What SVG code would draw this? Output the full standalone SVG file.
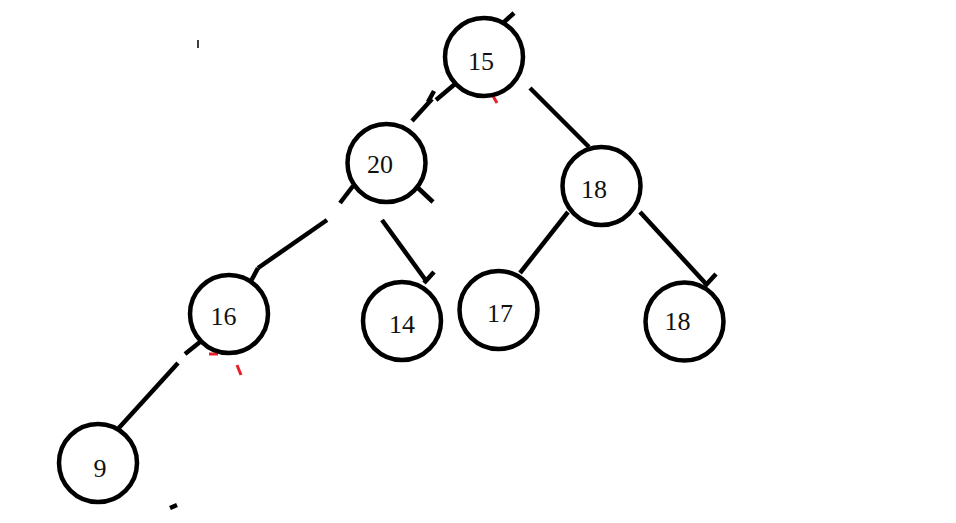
<svg xmlns="http://www.w3.org/2000/svg" width="956" height="523" viewBox="0 0 956 523">
<style>
.n circle{fill:#fff;stroke:#000;stroke-width:4.5}
.n text{font-family:"Liberation Serif","Times New Roman",serif;font-size:26px;fill:#111;text-anchor:middle}
#edges line{stroke:#000;stroke-width:4.5;stroke-linecap:butt}
#edges line.red{stroke:#e8202a;stroke-width:3}
</style>
<rect width="956" height="523" fill="#fff"/>
<g id="edges">
<line x1="503" y1="23" x2="514" y2="13"/>
<line x1="455" y1="84" x2="436" y2="100"/>
<line x1="434" y1="91" x2="428" y2="102"/>
<line x1="432" y1="99" x2="412" y2="121"/>
<line x1="530" y1="88" x2="589" y2="147"/>
<line class="red" x1="493" y1="96" x2="497" y2="103"/>
<line x1="353" y1="186" x2="340" y2="203"/>
<line x1="327" y1="220" x2="258" y2="268"/>
<line x1="258" y1="268" x2="251" y2="281"/>
<line x1="417" y1="187" x2="433" y2="202"/>
<line x1="382" y1="220" x2="427" y2="282"/>
<line x1="424" y1="283" x2="434" y2="272"/>
<line x1="200" y1="342" x2="185" y2="354"/>
<line x1="178" y1="363" x2="117" y2="430"/>
<line class="red" x1="209" y1="354" x2="218" y2="354"/>
<line class="red" x1="237" y1="365" x2="241" y2="375"/>
<line x1="170" y1="508" x2="177" y2="505"/>
<line x1="198" y1="40" x2="198" y2="48" style="stroke-width:1.5"/>
<line x1="568" y1="212" x2="520" y2="273"/>
<line x1="640" y1="212" x2="707" y2="285"/>
<line x1="705" y1="286" x2="716" y2="274"/>
</g>
<g id="n15" class="n"><circle cx="484" cy="57" r="39"/><text x="481" y="70">15</text></g>
<g id="n20" class="n"><circle cx="386.5" cy="163" r="39"/><text x="380" y="173">20</text></g>
<g id="n18a" class="n"><circle cx="601.5" cy="186" r="39"/><text x="594" y="198">18</text></g>
<g id="n16" class="n"><circle cx="229" cy="314" r="39"/><text x="223.5" y="325">16</text></g>
<g id="n14" class="n"><circle cx="402" cy="321" r="39"/><text x="402" y="333">14</text></g>
<g id="n17" class="n"><circle cx="498.5" cy="310" r="39"/><text x="500" y="322">17</text></g>
<g id="n18b" class="n"><circle cx="684.5" cy="321.5" r="39"/><text x="677.5" y="330">18</text></g>
<g id="n9" class="n"><circle cx="98" cy="463" r="39"/><text x="100" y="477">9</text></g>
</svg>
